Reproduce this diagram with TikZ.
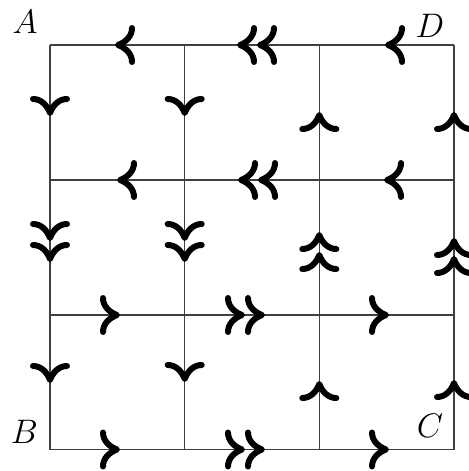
\RequirePackage{fix-cm}
\documentclass[tikz,border=0pt]{standalone}
\begin{document}
\begin{tikzpicture}[x=0.5pt,y=-0.5pt,
  gridline/.style={line width=0.55pt, black!75},
  ahead/.pic={\draw[line width=3pt, line cap=round, line join=round]
     (-14,17) .. controls (-14,9) and (-8,3) .. (0,0)
              .. controls (-8,-3) and (-14,-9) .. (-14,-17);},
  lab/.style={inner sep=0pt, font=\fontsize{17}{20}\selectfont}]
\useasboundingbox (0,0) rectangle (469,471);
% grid points
\foreach \i/\x in {0/50,1/184.7,2/319.3,3/454}{
  \foreach \j/\y in {0/45,1/180,2/315,3/449.5}{
    \coordinate (p\i\j) at (\x,\y);
  }
}
\foreach \j in {0,1,2,3}{\draw[gridline] (p0\j) -- (p3\j);}
\foreach \i in {0,1,2,3}{\draw[gridline] (p\i0) -- (p\i3);}
% labels
\node[lab] (lA) at (25,21.5) {$A$};
\node[lab] (lD) at (430,26) {$D$};
\node[lab] (lB) at (24.5,431.5) {$B$};
\node[lab] (lC) at (430,426) {$C$};
% left-pointing arrows
\foreach \x in {118,240,260,388}{\pic[rotate=180] at (\x,45) {ahead};}
\foreach \x in {120,241,261,387}{\pic[rotate=180] at (\x,180) {ahead};}
% right-pointing arrows
\foreach \x in {117,242,262,386}{\pic at (\x,315) {ahead};}
\foreach \x in {117,242,262,386}{\pic at (\x,449.5) {ahead};}
% down arrows
\foreach \y in {113,238,259,380}{\pic[rotate=-90] at (50,\y) {ahead};}
\foreach \y in {113,238,259,379}{\pic[rotate=-90] at (184.7,\y) {ahead};}
% up arrows
\foreach \y in {115,235,255,384}{\pic[rotate=90] at (319.3,\y) {ahead};}
\foreach \y in {115,241,259,383}{\pic[rotate=90] at (454,\y) {ahead};}
\end{tikzpicture}
\end{document}
